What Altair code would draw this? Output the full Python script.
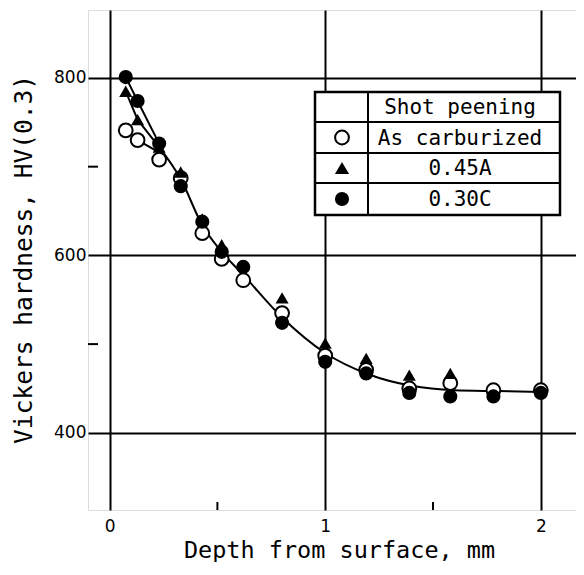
import altair as alt
import pandas as pd

# ---------------- data ----------------
depth_open = [0.075, 0.13, 0.23, 0.33, 0.43, 0.52, 0.62, 0.80, 1.00, 1.19, 1.39, 1.58, 1.78, 2.00]
hv_open = [741, 730, 708, 687, 625, 596, 572, 535, 487, 471, 450, 456, 448, 448]

depth_tri = [0.075, 0.13, 0.23, 0.33, 0.43, 0.52, 0.80, 1.00, 1.19, 1.39, 1.58]
hv_tri = [785, 753, 722, 694, 641, 612, 552, 501, 484, 465, 467]

depth_fill = [0.075, 0.13, 0.23, 0.33, 0.43, 0.52, 0.62, 0.80, 1.00, 1.19, 1.39, 1.58, 1.78, 2.00]
hv_fill = [801, 774, 726, 678, 638, 604, 587, 524, 480, 467, 445, 441, 441, 445]

# fitted curve (common part) and the three near-surface branches
curve_depth = [0.23, 0.33, 0.43, 0.52, 0.62, 0.80, 1.00, 1.20, 1.40, 1.60, 1.80, 2.00]
curve_hv = [722, 686, 634, 604, 578, 530, 490, 466, 453, 448, 447, 446]
branch_depth = [0.075, 0.13, 0.23]
branch_open = [741, 730, 716]
branch_tri = [785, 753, 722]
branch_fill = [801, 774, 726]

x_ticks = [0, 1, 2]
x_minor = [0.5, 1.5]
y_ticks = [400, 600, 800]
y_minor = [500, 700]

legend_header = "Shot peening"
legend_labels = ["As carburized", "0.45A", "0.30C"]

# ---------------- layout ----------------
W, H = 488, 500
XDOM = [-0.1, 2.163]
YDOM = [313, 876.6]
MONO = "DejaVu Sans Mono"
SANS = "DejaVu Sans"

xs = alt.Scale(domain=XDOM, nice=False, zero=False)
ys = alt.Scale(domain=YDOM, nice=False, zero=False)

df_open = pd.DataFrame({"d": depth_open, "hv": hv_open})
df_tri = pd.DataFrame({"d": depth_tri, "hv": hv_tri})
df_fill = pd.DataFrame({"d": depth_fill, "hv": hv_fill})
df_curve = pd.DataFrame({"d": curve_depth, "hv": curve_hv})
df_branch = pd.concat([
    pd.DataFrame({"d": branch_depth, "hv": branch_open, "s": "open"}),
    pd.DataFrame({"d": branch_depth, "hv": branch_tri, "s": "tri"}),
    pd.DataFrame({"d": branch_depth, "hv": branch_fill, "s": "fill"}),
])

X = alt.X("d:Q", scale=xs,
          axis=alt.Axis(values=x_ticks, format="d", grid=True, gridColor="black",
                        gridWidth=2, gridOpacity=1, domain=False, ticks=False,
                        labelFont=SANS, labelFontSize=17, labelColor="black",
                        labelPadding=8, labelFlush=False,
                        title="Depth from surface, mm", titleFont=MONO,
                        titleFontSize=23.5, titleFontWeight="normal", titleColor="black",
                        titleX=251, titleY=47, titleAlign="center",
                        titleBaseline="alphabetic"))
Y = alt.Y("hv:Q", scale=ys,
          axis=alt.Axis(values=y_ticks, grid=True, gridColor="black", gridWidth=2,
                        gridOpacity=1, domain=False, ticks=False, labelFont=SANS,
                        labelFontSize=17, labelColor="black", labelPadding=2,
                        labelFlush=False,
                        title="Vickers hardness, HV(0.3)", titleFont=MONO,
                        titleFontSize=24.5, titleFontWeight="normal", titleColor="black",
                        titleX=-64, titleY=249, titleAngle=270, titleAlign="center",
                        titleBaseline="middle"))

base_axes = alt.Chart(df_curve).mark_line(stroke="black", strokeWidth=2,
                                          interpolate="monotone").encode(x=X, y=Y)

branches = alt.Chart(df_branch).mark_line(stroke="black", strokeWidth=2).encode(
    x=alt.X("d:Q", scale=xs), y=alt.Y("hv:Q", scale=ys), detail="s:N")

pts_open = alt.Chart(df_open).mark_circle(
    size=190, fill="white", stroke="black", strokeWidth=2, opacity=1).encode(
    x=alt.X("d:Q", scale=xs), y=alt.Y("hv:Q", scale=ys))
pts_tri = alt.Chart(df_tri).mark_point(
    shape="triangle-up", size=170, filled=True, color="black", opacity=1).encode(
    x=alt.X("d:Q", scale=xs), y=alt.Y("hv:Q", scale=ys))
pts_fill = alt.Chart(df_fill).mark_circle(
    size=200, color="black", opacity=1).encode(
    x=alt.X("d:Q", scale=xs), y=alt.Y("hv:Q", scale=ys))

minor_x = alt.Chart(pd.DataFrame({"d": x_minor})).mark_rule(
    color="black", strokeWidth=2).encode(
    x=alt.X("d:Q", scale=xs), y=alt.value(H), y2=alt.value(H - 8))
minor_y = alt.Chart(pd.DataFrame({"hv": y_minor})).mark_rule(
    color="black", strokeWidth=2).encode(
    y=alt.Y("hv:Q", scale=ys), x=alt.value(0), x2=alt.value(10))

# ---------------- table-style legend ----------------
one = pd.DataFrame({"k": [0]})
LX0, LX1, LXC = 227, 472, 280
LY0, LY1 = 82, 205
row_lines = [112, 143, 173]
row_centers = [97, 127.5, 158, 189]

leg = [alt.Chart(one).mark_rect(fill="white", stroke="black", strokeWidth=2.5).encode(
    x=alt.value(LX0), x2=alt.value(LX1), y=alt.value(LY0), y2=alt.value(LY1))]
for ry in row_lines:
    leg.append(alt.Chart(one).mark_rule(color="black", strokeWidth=2).encode(
        x=alt.value(LX0), x2=alt.value(LX1), y=alt.value(ry)))
leg.append(alt.Chart(one).mark_rule(color="black", strokeWidth=2).encode(
    x=alt.value(LXC), y=alt.value(LY0), y2=alt.value(LY1)))
for lab, ry in zip([legend_header] + legend_labels, row_centers):
    leg.append(alt.Chart(one).mark_text(font=MONO, fontSize=21, color="black",
                                        align="center", baseline="middle").encode(
        x=alt.value(372), y=alt.value(ry + 1), text=alt.value(lab)))
sym_x = 254
leg.append(alt.Chart(one).mark_point(shape="circle", size=190, fill="white",
                                     stroke="black", strokeWidth=2, opacity=1,
                                     filled=False).encode(
    x=alt.value(sym_x), y=alt.value(row_centers[1])))
leg.append(alt.Chart(one).mark_point(shape="triangle-up", size=200, filled=True,
                                     color="black", opacity=1).encode(
    x=alt.value(sym_x), y=alt.value(row_centers[2])))
leg.append(alt.Chart(one).mark_point(shape="circle", size=200, filled=True,
                                     color="black", opacity=1).encode(
    x=alt.value(sym_x), y=alt.value(row_centers[3])))

chart = alt.layer(
    base_axes, branches, minor_x, minor_y, pts_open, pts_tri, pts_fill, *leg
).properties(
    width=W, height=H,
    autosize=alt.AutoSizeParams(type="none"),
    padding={"left": 80, "top": 2, "right": 0, "bottom": 52},
).configure_view(
    stroke="black", strokeWidth=2.5
).configure(background="white")

chart.save("out.html", embed_options={"renderer": "svg", "actions": False})
